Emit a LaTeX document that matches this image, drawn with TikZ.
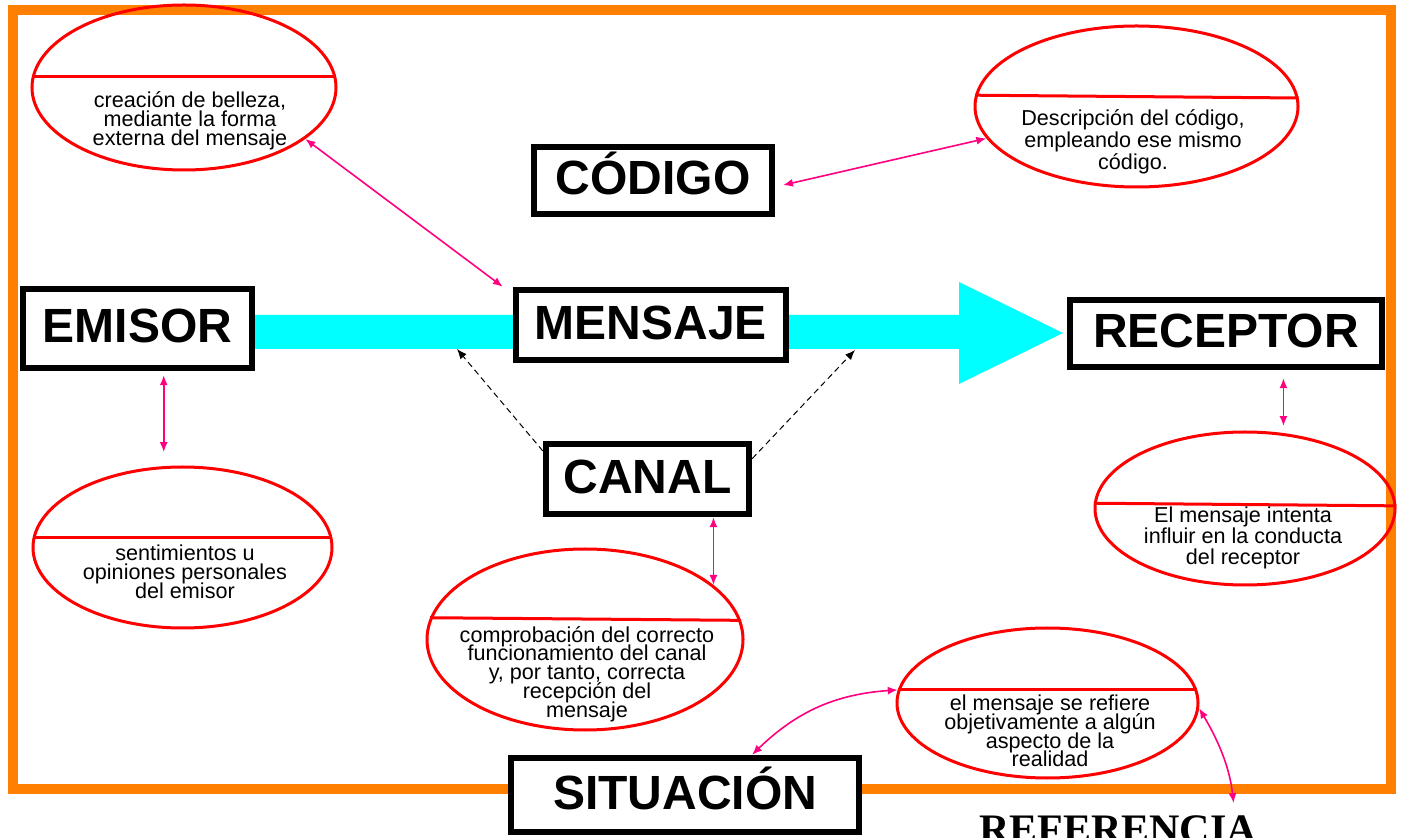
\documentclass[tikz,border=0pt]{standalone}
\usepackage{fontspec}
\setmainfont{Liberation Sans}
\newfontfamily\serifa{Liberation Serif}
\usetikzlibrary{shapes.geometric,arrows.meta}
\definecolor{naranja}{RGB}{255,128,0}
\definecolor{rosa}{RGB}{255,0,128}
\definecolor{celeste}{RGB}{0,255,255}
\newcommand\apretado{\lineskiplimit=-20pt\relax}

\begin{document}
\begin{tikzpicture}[x=0.5pt,y=-0.5pt,
  caja/.style={draw,line width=3.2pt,fill=white,inner sep=0pt,text height=17.2pt,text depth=3pt,font=\bfseries\fontsize{24pt}{28pt}\selectfont},
  nota/.style={ellipse,draw=red,line width=1.5pt,inner sep=0pt},
  raya/.style={draw=red,line width=1.5pt},
  texto/.style={align=center,inner sep=0pt,font=\fontsize{10.8pt}{#1}\selectfont\apretado},
  texto/.default=9.4pt,
  flecha/.style={rosa,line width=0.8pt,{Latex[length=5pt,width=4pt]}-{Latex[length=5pt,width=4pt]}},
  punteada/.style={black,line width=0.5pt,dash pattern=on 3pt off 2pt,-{Latex[length=5pt,width=4pt]}}]
\useasboundingbox (0,0) rectangle (1402,838);
\clip (0,0) rectangle (1402,838);
\fill[white] (0,0) rectangle (1402,838);
\draw[naranja,line width=5pt] (13,10) rectangle (1391,789);
\fill[celeste] (255,315) -- (959,315) -- (959,282) -- (1063,333) -- (959,384) -- (959,349) -- (255,349) -- cycle;

\node[nota,minimum width=152pt,minimum height=82.5pt] (poetica) at (184,87.5) {};
\node[nota,minimum width=161.5pt,minimum height=80.5pt] (metalinguistica) at (1136.5,106.5) {};
\node[nota,minimum width=150pt,minimum height=76.5pt] (conativa) at (1245,508.5) {};
\node[nota,minimum width=149.5pt,minimum height=80.5pt] (expresiva) at (182.5,547.5) {};
\node[nota,minimum width=158pt,minimum height=90.5pt] (fatica) at (585,639.5) {};
\node[nota,minimum width=150.5pt,minimum height=75pt] (referencial) at (1047.5,703) {};
\draw[raya] (poetica.176) -- (poetica.4);
\draw[raya] (metalinguistica.176.2) -- (metalinguistica.3.8);
\draw[raya] (conativa.178.3) -- (conativa.1.7);
\draw[raya] (expresiva.176) -- (expresiva.4);
\draw[raya] (fatica.172.4) -- (fatica.7.6);
\draw[raya] (referencial.175) -- (referencial.5);

\node[caja,minimum width=114.5pt,minimum height=39.5pt] (emisor) at (137.5,328.5) {EMISOR};
\node[caja,minimum width=135pt,minimum height=35pt] (mensaje) at (651,325) {MENSAJE};
\node[caja,minimum width=156pt,minimum height=33.5pt] (receptor) at (1226,333.5) {RECEPTOR};
\node[caja,minimum width=119pt,minimum height=33.5pt] (codigo) at (653,180.5) {CÓDIGO};
\node[caja,minimum width=101.5pt,minimum height=35pt] (canal) at (647.5,479) {CANAL};
\node[caja,minimum width=174pt,minimum height=37pt] (situacion) at (685,795) {SITUACIÓN};
\node[inner sep=0pt,anchor=north,font=\serifa\bfseries\fontsize{21pt}{24pt}\selectfont] (referencia) at (1118,815) {REFERENCIA};

\node[texto] (tpoetica) at (190,121) {creación de belleza,\\mediante la forma\\externa del mensaje};
\node[texto=11pt] (tmeta) at (1133,142) {Descripción del código,\\empleando ese mismo\\código.};
\node[texto=10.5pt] (tconativa) at (1243,538) {El mensaje intenta\\influir en la conducta\\del receptor};
\node[texto] (texpresiva) at (185,572) {sentimientos u\\opiniones personales\\del emisor};
\node[texto] (tfatica) at (587,674) {comprobación del correcto\\funcionamiento del canal\\y, por tanto, correcta\\recepción del\\mensaje};
\node[texto] (treferencial) at (1050,731) {el mensaje se refiere\\objetivamente a algún\\aspecto de la\\realidad};

\draw[flecha] (poetica.-23) -- ([xshift=-5pt]mensaje.north west);
\draw[flecha,shorten <=4pt] (codigo.-3) -- (metalinguistica.192);
\draw[flecha,shorten <=4pt,shorten >=3.5pt] (conativa.63.5 |- receptor.south) -- (conativa.63.5);
\draw[flecha,shorten <=2pt,shorten >=7pt] (expresiva.103 |- emisor.south) -- (expresiva.103);
\draw[flecha] (fatica.23 |- canal.south) -- (fatica.23);
\draw[flecha] ([xshift=33.5pt]situacion.north) to[bend left=20] (referencial.175);
\draw[flecha,shorten >=6pt] (referencial.-2) to[bend left=12] ([xshift=58.5pt]referencia.north);

\coordinate (flujoizq) at (457,349);
\coordinate (flujoder) at (855,350);
\draw[punteada] (canal.165.5) -- (flujoizq);
\draw[punteada] (canal.11) -- (flujoder);
\end{tikzpicture}
\end{document}
